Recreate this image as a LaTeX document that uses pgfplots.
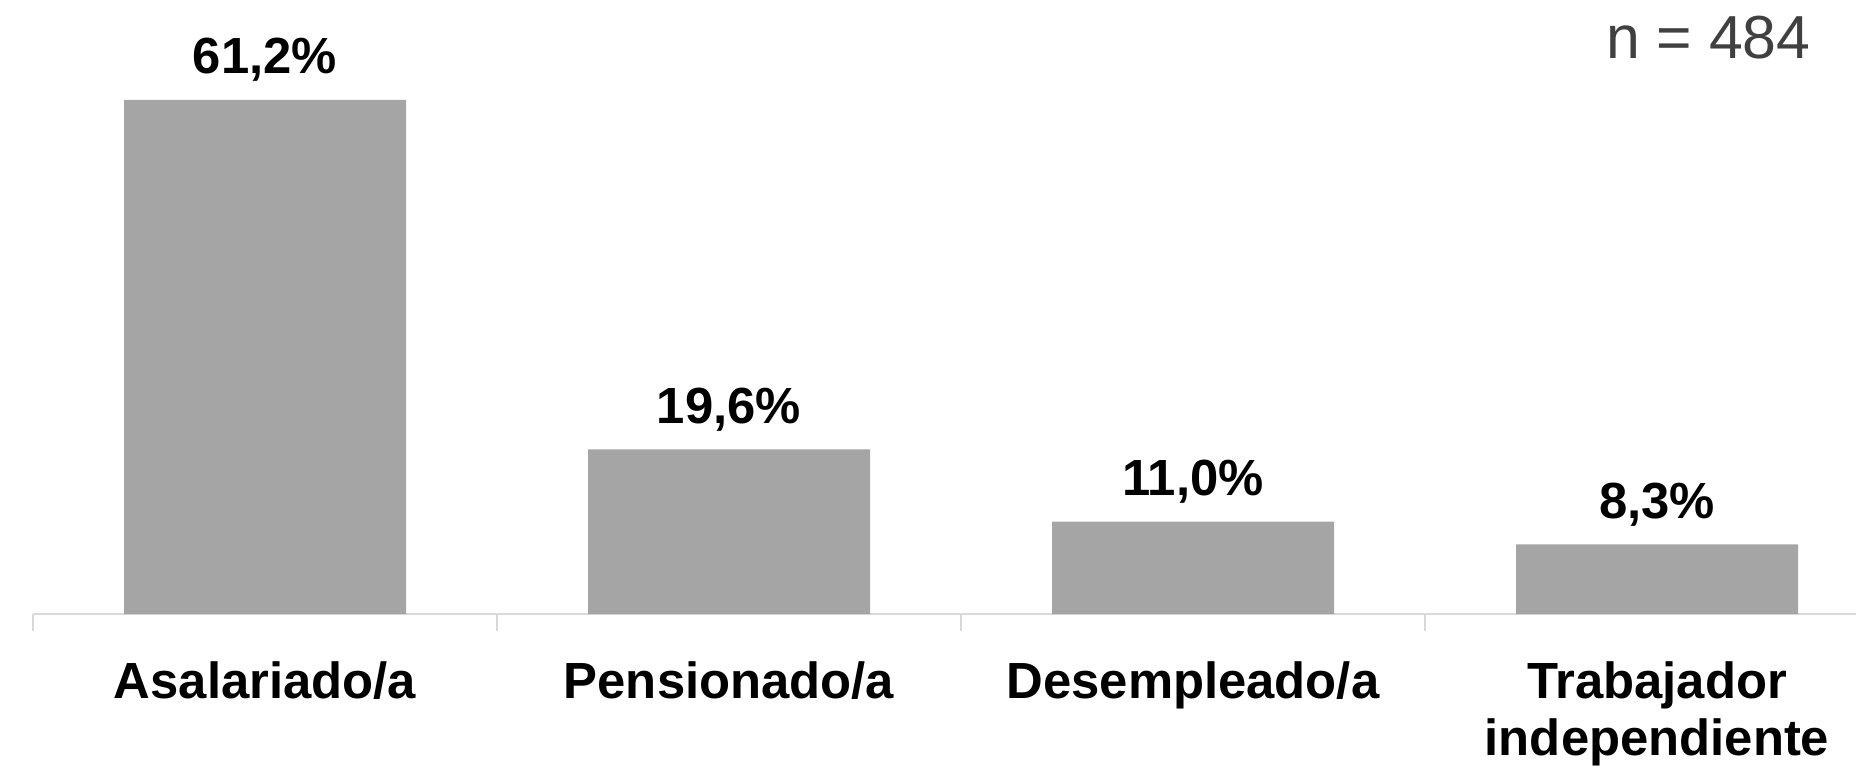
\documentclass[border=0pt]{standalone}
\usepackage{pgfplots}
\pgfplotsset{compat=1.18}
\usepackage{fontspec}
\setmainfont{Liberation Sans}
\definecolor{barc}{HTML}{A5A5A5}
\definecolor{axc}{HTML}{D9D9D9}
\definecolor{ntxt}{HTML}{404040}
\begin{document}
\begin{tikzpicture}
\useasboundingbox (0,0) rectangle (928bp,387bp);
\begin{axis}[
  at={(16.5bp,80bp)}, anchor=south west,
  scale only axis, width=928bp, height=295.75bp,
  xmin=-0.5, xmax=3.5, ymin=0, ymax=70.4,
  axis x line=bottom, axis y line=none,
  axis line style={draw=axc, line width=1bp, -},
  xtick={0,1,2,3},
  xticklabels={Asalariado/a, Pensionado/a, Desempleado/a, {Trabajador\\independiente}},
  major tick length=0pt,
  major tick style={draw=axc, line width=1bp},
  extra x ticks={-0.5,0.5,1.5,2.5,3.5},
  extra x tick labels={},
  extra x tick style={major tick length=8.5bp, tick align=outside, tick pos=bottom},
  xticklabel style={font=\fontsize{25.5}{28.5}\selectfont\bfseries, align=center, anchor=north, inner sep=0pt, yshift=-23.5bp},
  clip=false,
  nodes near coords,
  point meta=explicit symbolic,
  every node near coord/.style={font=\fontsize{25.5}{28.5}\selectfont\bfseries, anchor=base, inner sep=0pt, yshift=13bp, text=black},
]
\addplot[ybar, bar width=141bp, fill=barc, draw=none] coordinates {
  (0,61.2) [61,2\%]
  (1,19.6) [19,6\%]
  (2,11.0) [11,0\%]
  (3,8.3) [8,3\%]
};
\end{axis}
\node[anchor=base east, inner sep=0pt, text=ntxt, font=\fontsize{30.5}{34}\selectfont] at (905.5bp,357.5bp) {n = 484};
\end{tikzpicture}
\end{document}
